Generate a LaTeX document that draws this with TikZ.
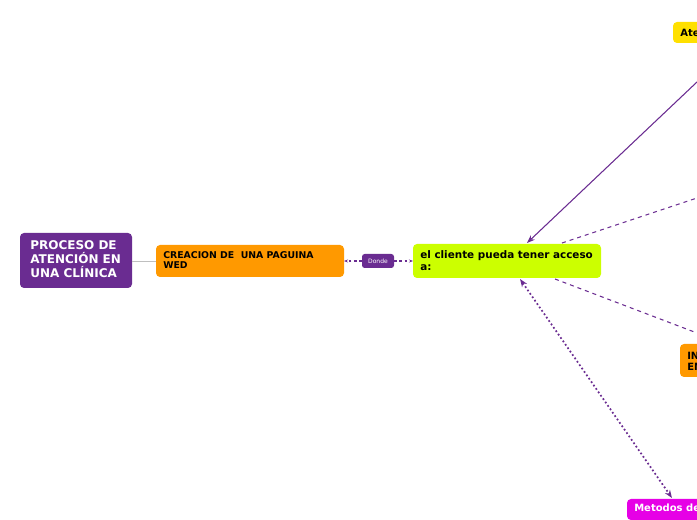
\documentclass[tikz,border=0pt]{standalone}
\usepackage{fontspec}
\setmainfont{DejaVu Sans}
\usetikzlibrary{arrows.meta}
\definecolor{morado}{HTML}{6A2C91}
\definecolor{naranja}{HTML}{FF9900}
\definecolor{lima}{HTML}{CCFF00}
\definecolor{amarillo}{HTML}{FFE000}
\definecolor{magenta}{HTML}{E600E6}
\tikzset{
  caja/.style={rounded corners=3pt, anchor=north west, align=left, inner sep=0pt, font=\bfseries\fontsize{7.5}{8}\selectfont},
  enlace/.style={draw=morado, line width=0.8pt}
}
\begin{document}
\begin{tikzpicture}[x=0.75pt,y=-0.75pt]
	\useasboundingbox (0,0) rectangle (697,520);
	\clip (0,0) rectangle (697,520);

	\fill[morado, rounded corners=3pt] (20,233) rectangle (132,288);
	\node[caja, text=white, font=\bfseries\fontsize{9}{10.5}\selectfont] (proceso) at (30,240) {PROCESO DE\\ATENCIÓN EN\\UNA CLÍNICA};
	\coordinate (procesoE) at (132,261);

	\fill[naranja, rounded corners=3pt] (156,245) rectangle (344,277);
	\node[caja, font=\bfseries\fontsize{7}{7.5}\selectfont] (creacion) at (163,251) {CREACION DE\ \ UNA PAGUINA\\WED};
	\coordinate (creacionW) at (156,261);
	\coordinate (creacionE) at (344,261);

	\fill[morado, rounded corners=2pt] (362,254) rectangle (394,268);
	\node[text=white, font=\fontsize{4.5}{5}\selectfont, inner sep=0pt] (donde) at (378,261) {Donde};
	\coordinate (dondeW) at (362,261);
	\coordinate (dondeE) at (394,261);

	\fill[lima, rounded corners=3pt] (413,244) rectangle (601,278);
	\node[caja, font=\bfseries\fontsize{7.8}{9}\selectfont] (cliente) at (420,250) {el cliente pueda tener acceso\\a:};
	\coordinate (clienteW) at (413,261);

	\fill[amarillo, rounded corners=3pt] (673,22) rectangle (760,43);
	\node[caja] (atencion) at (680,28) {Atención};

	\fill[naranja, rounded corners=3pt] (680,344) rectangle (780,377);
	\node[caja] (info) at (687,350) {INFORMACIÓN\\EN};

	\fill[magenta, rounded corners=3pt] (627,499) rectangle (760,520);
	\node[caja, text=white] (metodos) at (634,504) {Metodos de pago};

	\draw[gray!50, line width=0.6pt] (procesoE) -- (creacionW);
	\draw[enlace, dash pattern=on 2pt off 2pt, -{Stealth[length=3pt]}] (dondeW) -- (creacionE);
	\draw[enlace, dash pattern=on 2pt off 2pt, -{Stealth[length=3pt]}] (dondeE) -- (clienteW);
	\draw[enlace, -{Stealth[length=6pt]}] (697,82) -- (527,243);
	\draw[enlace, dash pattern=on 3pt off 3pt] (562,243) -- (697,198);
	\draw[enlace, dash pattern=on 3pt off 3pt] (555,279) -- (697,333);
	\draw[enlace, line width=1.3pt, dash pattern=on 1.3pt off 1.8pt, {Stealth[length=6pt]}-{Stealth[length=6pt]}] (520,279) -- (672,498);
\end{tikzpicture}
\end{document}
